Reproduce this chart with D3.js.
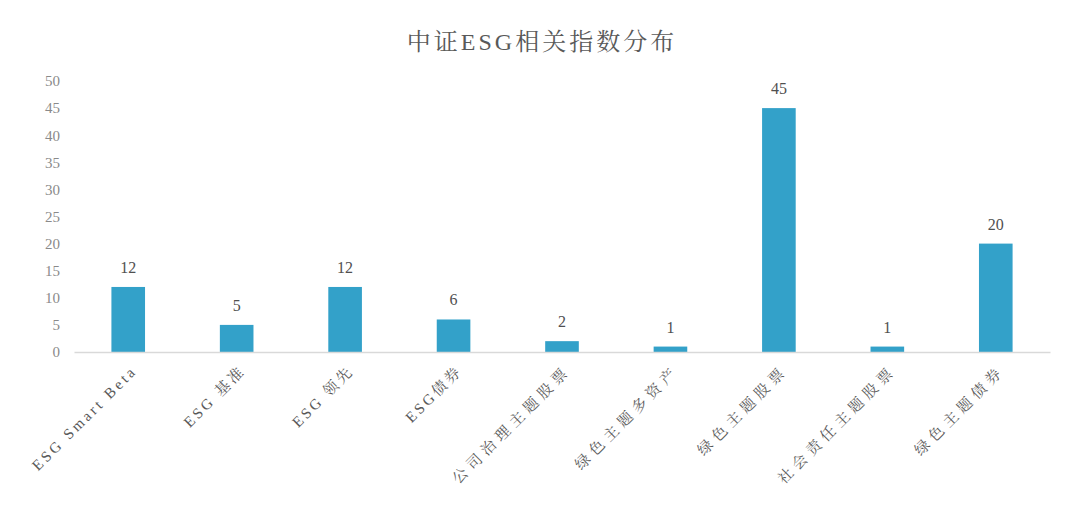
<!DOCTYPE html>
<html><head><meta charset="utf-8">
<script src="https://cdn.jsdelivr.net/npm/d3@7"></script>
<style>
body{margin:0;background:#fff;}
svg{display:block;}
</style></head>
<body>
<svg id="chart" width="1080" height="510"></svg>
<script>
const categories = ["ESG Smart Beta","ESG 基准","ESG 领先","ESG债券","公司治理主题股票","绿色主题多资产","绿色主题股票","社会责任主题股票","绿色主题债券"];
const values = [12,5,12,6,2,1,45,1,20];
const yTicks = [0,5,10,15,20,25,30,35,40,45,50];
const title = "中证ESG相关指数分布";

const svg = d3.select("#chart");
const W = 1080, H = 510;
const m = {left:74, right:30, top:81, bottom:158};
const font = "'Liberation Serif','Noto Serif CJK SC','Noto Sans CJK SC',serif";

const x = d3.scaleBand().domain(categories).range([m.left, W - m.right]).paddingInner(0.69).paddingOuter(0.345);
const y = d3.scaleLinear().domain([0,50]).range([H - m.bottom, m.top]);

svg.append("text").attr("x", 542).attr("y", 50).attr("text-anchor","middle")
  .attr("font-family", font).attr("font-size", 24).attr("letter-spacing", 3).attr("fill","#595959").text(title);

// y axis labels
const yAxis = d3.axisLeft(y).tickValues(yTicks).tickSize(0).tickPadding(0);
const gy = svg.append("g").attr("transform", `translate(60,0)`).call(yAxis);
gy.select(".domain").remove();
gy.selectAll("text").attr("font-family", font).attr("font-size", 15).attr("fill","#8a8a8a");

// bars
svg.selectAll("rect.bar").data(values).join("rect").attr("class","bar")
  .attr("x", (d,i) => x(categories[i])).attr("width", x.bandwidth())
  .attr("y", d => y(d)).attr("height", d => y(0) - y(d)).attr("fill", "#33A1C9");

// baseline
const xAxis = d3.axisBottom(x).tickSize(0).tickFormat("");
const gx = svg.append("g").attr("transform", `translate(0,${y(0)})`).call(xAxis);
gx.select(".domain").attr("stroke","#d9d9d9").attr("stroke-width",1.5);

// value labels
svg.selectAll("text.val").data(values).join("text").attr("class","val")
  .attr("x", (d,i) => x(categories[i]) + x.bandwidth()/2).attr("y", d => y(d) - 14)
  .attr("text-anchor","middle").attr("font-family", font).attr("font-size", 16).attr("fill","#505050")
  .text(d => d);

// x labels
svg.selectAll("text.xl").data(categories).join("text").attr("class","xl")
  .attr("transform", d => `translate(${x(d) + x.bandwidth()/2 + 6},${y(0) + 16}) rotate(-45)`)
  .attr("text-anchor","end").attr("dy","0.35em")
  .attr("font-family", font).attr("font-size", 15)
  .attr("letter-spacing", d => /[A-Za-z]/.test(d) ? 3 : 5).attr("fill","#595959")
  .text(d => d);
</script>
</body></html>
